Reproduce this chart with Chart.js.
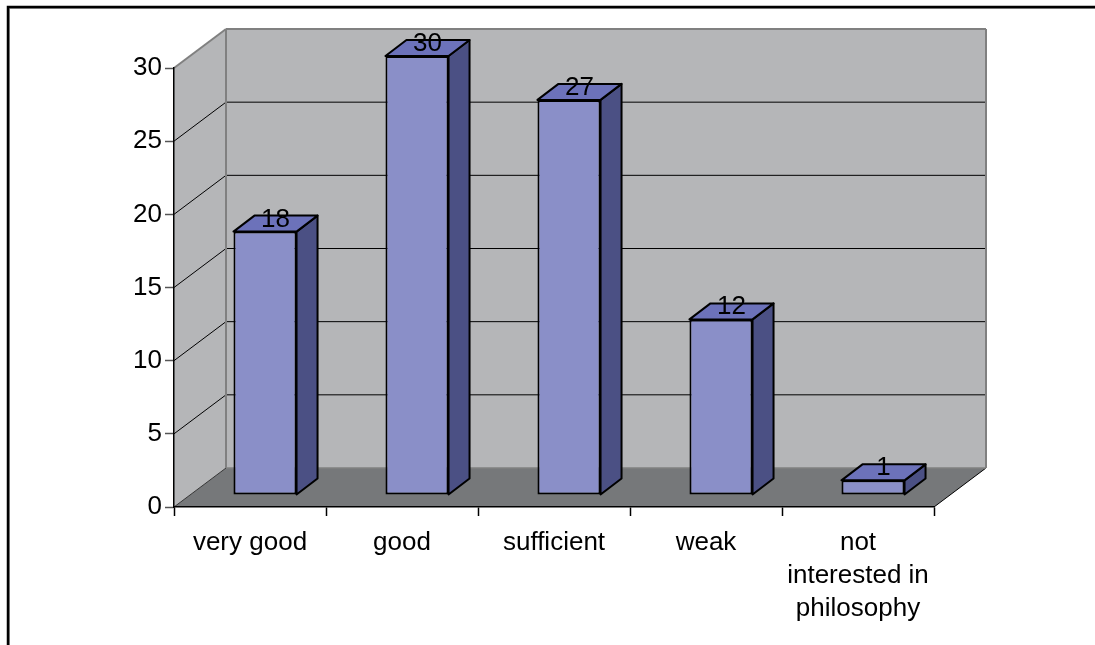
<!DOCTYPE html>
<html>
<head>
<meta charset="utf-8">
<script src="https://cdn.jsdelivr.net/npm/chart.js@4.4.0/dist/chart.umd.min.js"></script>
<style>
  html, body { margin: 0; padding: 0; background: #fff; }
</style>
</head>
<body>
<canvas id="grafico" width="1095" height="645"></canvas>
<script>
const categorias = ["very good", "good", "sufficient", "weak", ["not", "interested in", "philosophy"]];
const valores = [18, 30, 27, 12, 1];
const ticksY = [0, 5, 10, 15, 20, 25, 30];

const fuente = "'Liberation Sans', Arial, sans-serif";

// profundidad de las paredes y de las barras (efecto 3D)
const PARED_DX = 52, PARED_DY = -39;
const BARRA_DX = 15, BARRA_DY = -12;
const PROF_DX = 21, PROF_DY = -16;

function poligono(ctx, puntos, relleno, borde, ancho) {
  ctx.beginPath();
  ctx.moveTo(puntos[0][0], puntos[0][1]);
  for (let i = 1; i < puntos.length; i++) ctx.lineTo(puntos[i][0], puntos[i][1]);
  ctx.closePath();
  if (relleno) { ctx.fillStyle = relleno; ctx.fill(); }
  if (borde) { ctx.strokeStyle = borde; ctx.lineWidth = ancho || 1; ctx.stroke(); }
}

function linea(ctx, x1, y1, x2, y2, color, ancho) {
  ctx.beginPath();
  ctx.moveTo(x1, y1);
  ctx.lineTo(x2, y2);
  ctx.strokeStyle = color;
  ctx.lineWidth = ancho;
  ctx.stroke();
}

const fondo3d = {
  id: 'fondo3d',
  beforeDraw(chart) {
    const ctx = chart.ctx;
    const { left, right, top, bottom } = chart.chartArea;
    const escalaY = chart.scales.y;
    const dx = PARED_DX, dy = PARED_DY;
    ctx.save();

    // marco exterior
    ctx.strokeStyle = '#9a9a9a';
    ctx.lineWidth = 1;
    ctx.strokeRect(9.5, 8.5, 1300, 900);
    ctx.strokeStyle = '#000';
    ctx.lineWidth = 2.5;
    ctx.strokeRect(8, 7, 1300, 900);

    // paredes y piso
    poligono(ctx, [[left, top], [left + dx, top + dy], [left + dx, bottom + dy], [left, bottom]], '#b5b6b8');
    poligono(ctx, [[left + dx, top + dy], [right + dx, top + dy], [right + dx, bottom + dy], [left + dx, bottom + dy]], '#b5b6b8');
    poligono(ctx, [[left, bottom], [left + dx, bottom + dy], [right + dx, bottom + dy], [right, bottom]], '#76787a');

    // lineas de division
    ticksY.forEach(v => {
      if (v === 0 || v === ticksY[ticksY.length - 1]) return;
      const y = escalaY.getPixelForValue(v);
      linea(ctx, left, y, left + dx, y + dy, '#000', 1);
      linea(ctx, left + dx, y + dy, right + dx, y + dy, '#000', 1);
    });

    // bordes de las paredes
    linea(ctx, left, bottom, left + dx, bottom + dy, '#333', 1);
    linea(ctx, right, bottom, right + dx, bottom + dy, '#000', 1);
    linea(ctx, left + dx, bottom + dy, right + dx, bottom + dy, '#808080', 1.5);
    linea(ctx, left, top, left + dx, top + dy, '#808080', 2);
    linea(ctx, left + dx, top + dy, right + dx, top + dy, '#808080', 2);
    linea(ctx, left + dx, top + dy, left + dx, bottom + dy, '#808080', 2);
    linea(ctx, right + dx, top + dy, right + dx, bottom + dy, '#808080', 2);
    ctx.restore();
  },
  beforeDatasetsDraw(chart) {
    const ctx = chart.ctx;
    ctx.save();
    ctx.translate(BARRA_DX, BARRA_DY);
    const meta = chart.getDatasetMeta(0);
    meta.data.forEach(barra => {
      const izq = barra.x - barra.width / 2;
      const der = barra.x + barra.width / 2;
      const arriba = barra.y;
      const abajo = barra.base;
      ctx.lineJoin = 'round';
      // cara lateral
      poligono(ctx, [[der, arriba], [der + PROF_DX, arriba + PROF_DY], [der + PROF_DX, abajo + PROF_DY], [der, abajo]], '#4b5084', '#000', 2);
      // cara superior
      poligono(ctx, [[izq, arriba], [izq + PROF_DX, arriba + PROF_DY], [der + PROF_DX, arriba + PROF_DY], [der, arriba]], '#6c72ba', '#000', 2);
    });
  },
  afterDatasetsDraw(chart) {
    const ctx = chart.ctx;
    ctx.restore();
    ctx.save();
    const meta = chart.getDatasetMeta(0);
    const datos = chart.data.datasets[0].data;
    ctx.font = '26px ' + fuente;
    ctx.fillStyle = '#000';
    ctx.textAlign = 'center';
    ctx.textBaseline = 'alphabetic';
    meta.data.forEach((barra, i) => {
      const cx = barra.x + BARRA_DX + PROF_DX / 2;
      const cy = barra.y + BARRA_DY + PROF_DY / 2;
      ctx.fillText(String(datos[i]), cx, cy + 3);
    });
    ctx.restore();
  }
};

const ctx = document.getElementById('grafico').getContext('2d');
new Chart(ctx, {
  type: 'bar',
  data: {
    labels: categorias,
    datasets: [{
      data: valores,
      backgroundColor: '#8a8fc8',
      borderColor: '#000',
      borderWidth: 2,
      borderSkipped: false,
      categoryPercentage: 1,
      barPercentage: 0.415,
      clip: false
    }]
  },
  options: {
    responsive: false,
    animation: false,
    layout: { padding: { left: 0, top: 68, right: 161, bottom: 0 } },
    plugins: {
      legend: { display: false },
      tooltip: { enabled: false }
    },
    scales: {
      x: {
        grid: { drawOnChartArea: false, offset: true, tickLength: 9, tickColor: '#000', tickWidth: 1.5 },
        border: { color: '#000', width: 1.5 },
        ticks: {
          color: '#000',
          padding: 10,
          maxRotation: 0,
          autoSkip: false,
          font: { family: fuente, size: 26, lineHeight: 1.27 }
        },
        afterFit(escala) { escala.height = 138; }
      },
      y: {
        min: 0,
        max: 30,
        afterBuildTicks(escala) { escala.ticks = ticksY.map(v => ({ value: v })); },
        grid: { drawOnChartArea: false, tickLength: 9, tickColor: '#555', tickWidth: 1.5 },
        border: { color: '#000', width: 1.5 },
        ticks: {
          color: '#000',
          padding: 3,
          font: { family: fuente, size: 26 }
        },
        afterFit(escala) { escala.width = 174; }
      }
    }
  },
  plugins: [fondo3d]
});
</script>
</body>
</html>
